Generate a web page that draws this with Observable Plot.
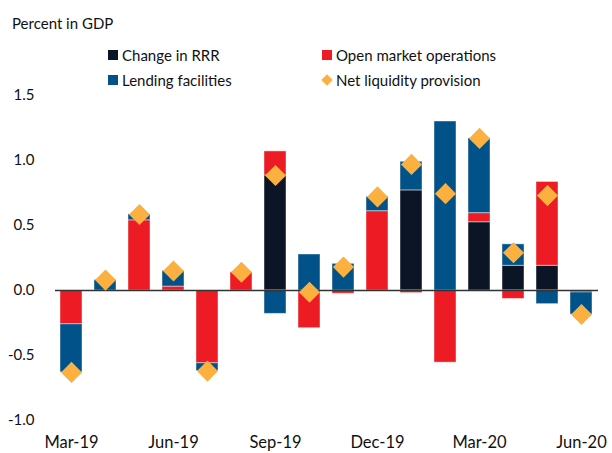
<!DOCTYPE html>
<html>
<head>
<meta charset="utf-8">
<script src="https://cdn.jsdelivr.net/npm/d3@7"></script>
<script src="https://cdn.jsdelivr.net/npm/@observablehq/plot@0.6"></script>
<style>
  html, body { margin: 0; padding: 0; background: #fff; }
  #wrap { position: relative; width: 612px; height: 453px; font-family: Lato, "Open Sans", sans-serif; color: #111; }
  #unit { position: absolute; left: 12px; top: 14px; font-size: 15px; }
  .leg { position: absolute; font-size: 15px; display: flex; align-items: center; white-space: nowrap; }
  .sw { width: 10px; height: 10px; margin-right: 4px; display: inline-block; }
  .dia { width: 8px; height: 8px; transform: rotate(45deg); margin-left: 1px; margin-right: 5px; display: inline-block; }
</style>
</head>
<body>
<div id="wrap">
  <div id="unit">Percent in GDP</div>
  <div id="legend"></div>
  <div id="chart"></div>
</div>
<script>
const months = ["Mar-19","Apr-19","May-19","Jun-19","Jul-19","Aug-19","Sep-19","Oct-19","Nov-19","Dec-19","Jan-20","Feb-20","Mar-20","Apr-20","May-20","Jun-20"];
const tickLabels = ["Mar-19","Jun-19","Sep-19","Dec-19","Mar-20","Jun-20"];
const seriesNames = ["Change in RRR","Open market operations","Lending facilities"];
const rrr = [0, 0, 0, 0, 0, 0, 0.885, 0, 0, 0, 0.77, 0, 0.525, 0.19, 0.19, 0];
const omo = [-0.26, 0, 0.54, 0.03, -0.56, 0.14, 0.185, -0.29, -0.025, 0.61, -0.02, -0.555, 0.07, -0.065, 0.645, -0.015];
const lending = [-0.37, 0.08, 0.045, 0.12, -0.06, 0, -0.18, 0.277, 0.205, 0.11, 0.22, 1.30, 0.575, 0.165, -0.105, -0.17];
const net = [-0.63, 0.08, 0.585, 0.15, -0.62, 0.14, 0.885, -0.013, 0.18, 0.72, 0.97, 0.745, 1.17, 0.29, 0.73, -0.185];
const yTicks = [-1, -0.5, 0, 0.5, 1, 1.5];
const colors = {"Change in RRR": "#0b1526", "Open market operations": "#ed1c24", "Lending facilities": "#005288", "Net liquidity provision": "#fbb040"};

const seriesValues = [rrr, omo, lending];
const bars = [];
seriesNames.forEach((s, i) => months.forEach((m, j) => bars.push({month: m, series: s, value: seriesValues[i][j]})));
const netData = months.map((m, j) => ({month: m, value: net[j]}));

const chart = Plot.plot({
  width: 612,
  height: 453,
  marginLeft: 55,
  marginRight: 14,
  marginTop: 95,
  marginBottom: 33,
  style: {fontFamily: "Lato, 'Open Sans', sans-serif", fontSize: "15px", color: "#111"},
  x: {domain: months, paddingInner: 0.35, paddingOuter: 0.16, label: null},
  y: {domain: [-1, 1.5], label: null},
  color: {domain: Object.keys(colors), range: Object.values(colors)},
  marks: [
    Plot.axisX({ticks: tickLabels, tickSize: 0, tickPadding: 16, fontSize: 16.5, label: null}),
    Plot.axisY({ticks: yTicks, tickSize: 0, tickPadding: 21, tickFormat: d => d.toFixed(1), label: null}),
    Plot.barY(bars, Plot.stackY({x: "month", y: "value", z: "series", fill: "series", stroke: "white", strokeWidth: 1, strokeOpacity: 0.45})),
    Plot.ruleY([0], {stroke: "#333", strokeWidth: 1.3}),
    Plot.dot(netData, {x: "month", y: "value", symbol: "diamond2", r: 9.5, fill: colors["Net liquidity provision"], stroke: "none"})
  ]
});
document.getElementById("chart").appendChild(chart);

const legendItems = [
  {name: "Change in RRR", left: 108, top: 46, kind: "sq"},
  {name: "Open market operations", left: 322, top: 46, kind: "sq"},
  {name: "Lending facilities", left: 108, top: 71, kind: "sq"},
  {name: "Net liquidity provision", left: 322, top: 71, kind: "dia"}
];
const leg = document.getElementById("legend");
legendItems.forEach(it => {
  const d = document.createElement("div");
  d.className = "leg";
  d.style.left = it.left + "px";
  d.style.top = it.top + "px";
  const s = document.createElement("span");
  s.className = it.kind === "sq" ? "sw" : "dia";
  s.style.background = colors[it.name];
  d.appendChild(s);
  d.appendChild(document.createTextNode(it.name));
  leg.appendChild(d);
});
</script>
</body>
</html>
